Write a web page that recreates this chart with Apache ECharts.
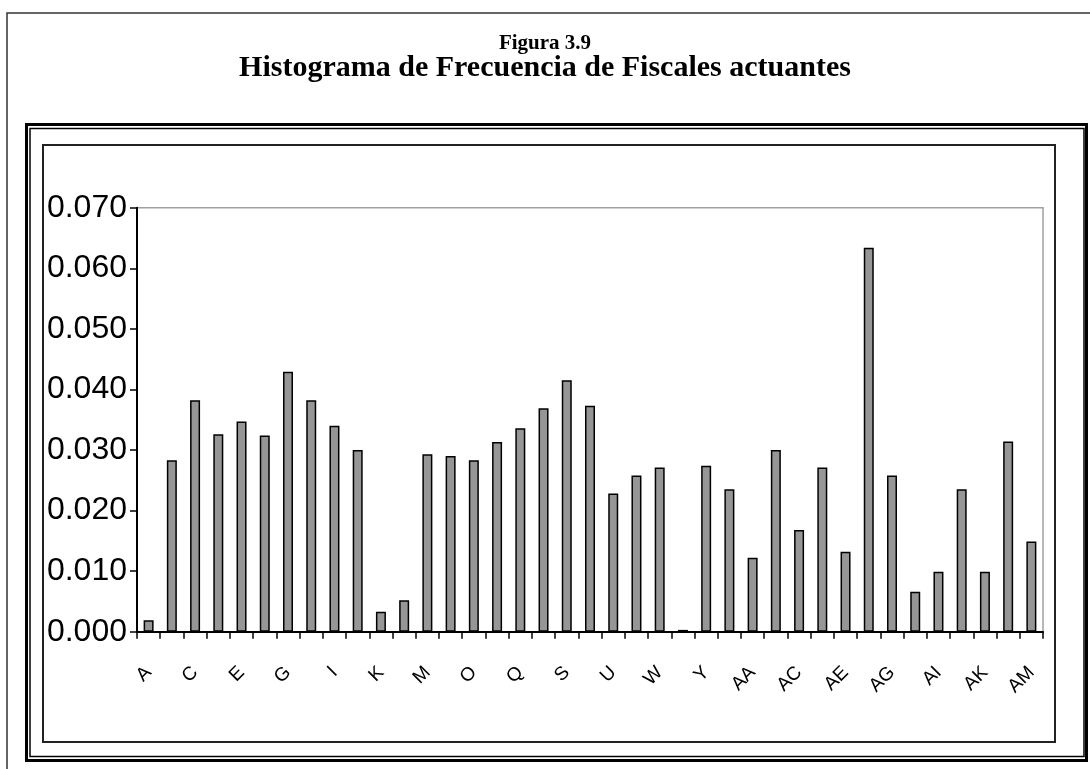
<!DOCTYPE html>
<html>
<head>
<meta charset="utf-8">
<script src="https://cdn.jsdelivr.net/npm/echarts@6/dist/echarts.min.js"></script>
<style>
  html, body { margin: 0; padding: 0; background: #fff; }
  #chart { width: 1090px; height: 769px; }
</style>
</head>
<body>
<div id="chart"></div>
<script>
// columnas A..AM
const categories = [
  'A', 'B', 'C', 'D', 'E', 'F', 'G', 'H', 'I', 'J', 'K', 'L', 'M',
  'N', 'O', 'P', 'Q', 'R', 'S', 'T', 'U', 'V', 'W', 'X', 'Y', 'Z',
  'AA', 'AB', 'AC', 'AD', 'AE', 'AF', 'AG', 'AH', 'AI', 'AJ', 'AK', 'AL', 'AM'
];
const frecuencia = [
  0.0019, 0.0283, 0.0382, 0.0326, 0.0347, 0.0324, 0.0429, 0.0382, 0.0340, 0.0300,
  0.0033, 0.0052, 0.0293, 0.0290, 0.0283, 0.0313, 0.0336, 0.0369, 0.0415, 0.0373,
  0.0228, 0.0258, 0.0271, 0.0003, 0.0274, 0.0235, 0.0122, 0.0300, 0.0168, 0.0271,
  0.0132, 0.0634, 0.0258, 0.0066, 0.0099, 0.0235, 0.0099, 0.0314, 0.0149
];
const titulo = 'Figura 3.9';
const subtitulo = 'Histograma de Frecuencia de Fiscales actuantes';

const chart = echarts.init(document.getElementById('chart'));

const serif = "'Liberation Serif', 'Times New Roman', serif";
const sans = "'Liberation Sans', Arial, sans-serif";

chart.setOption({
  animation: false,
  backgroundColor: '#fff',
  title: [
    {
      text: titulo, left: 'center', top: 28,
      textStyle: { fontFamily: serif, fontWeight: 'bold', fontSize: 21, color: '#000' }
    },
    {
      text: subtitulo, left: 'center', top: 48,
      textStyle: { fontFamily: serif, fontWeight: 'bold', fontSize: 30, color: '#000' }
    }
  ],
  graphic: [
    // marco exterior
    { type: 'polyline', shape: { points: [[7, 769], [7, 13], [1090, 13]] },
      style: { stroke: '#333', lineWidth: 1.5, fill: null }, silent: true },
    // doble marco
    { type: 'rect', shape: { x: 26.5, y: 124.5, width: 1060, height: 636 },
      style: { stroke: '#000', lineWidth: 3, fill: null }, silent: true },
    { type: 'rect', shape: { x: 30, y: 128.5, width: 1054, height: 628 },
      style: { stroke: '#000', lineWidth: 1.5, fill: null }, silent: true },
    // caja interior
    { type: 'rect', shape: { x: 43, y: 145, width: 1012, height: 597 },
      style: { stroke: '#222', lineWidth: 2, fill: null }, silent: true }
  ],
  grid: {
    left: 137, right: 47, top: 207.7, bottom: 137.3,
    show: true, borderColor: '#a0a0a0', borderWidth: 1.5
  },
  xAxis: {
    type: 'category',
    data: categories,
    boundaryGap: true,
    axisLine: { lineStyle: { color: '#000', width: 2 } },
    axisTick: { show: true, interval: 0, length: 7, lineStyle: { color: '#000', width: 1.5 } },
    axisLabel: {
      interval: 1, rotate: 45, margin: 38,
      fontFamily: sans, fontSize: 19, color: '#000'
    },
    splitLine: { show: false }
  },
  yAxis: {
    type: 'value',
    min: 0, max: 0.07, interval: 0.01,
    axisLine: { show: true, lineStyle: { color: '#000', width: 2 } },
    axisTick: { show: true, length: 7, lineStyle: { color: '#000', width: 1.5 } },
    axisLabel: {
      margin: 10, formatter: v => v.toFixed(3),
      fontFamily: sans, fontSize: 32, color: '#000'
    },
    splitLine: { show: false }
  },
  series: [{
    type: 'bar',
    data: frecuencia,
    barWidth: 10,
    itemStyle: { color: '#969696', borderColor: '#000', borderWidth: 1.5 }
  }]
});
</script>
</body>
</html>
